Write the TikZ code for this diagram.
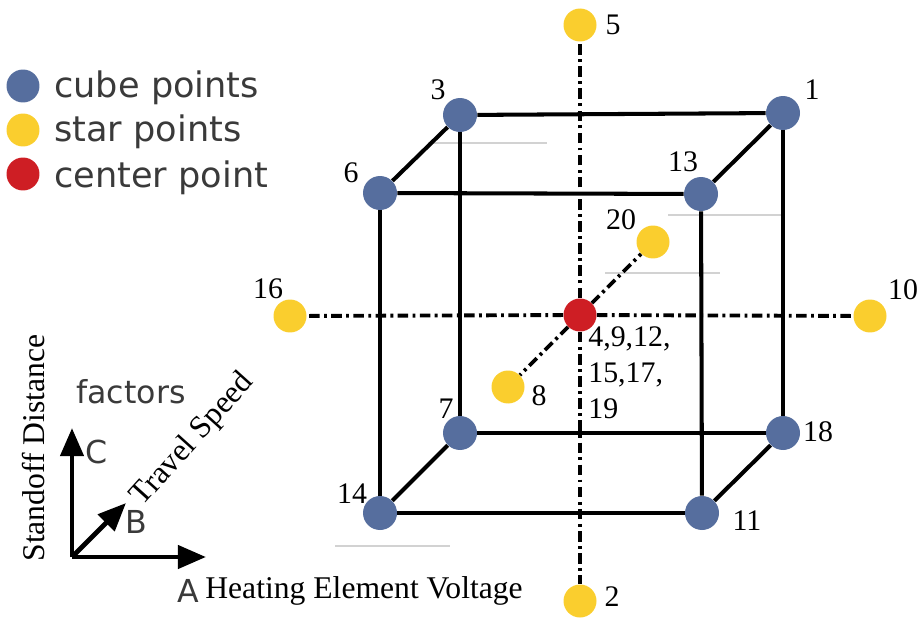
\documentclass[tikz,border=0pt]{standalone}
\usepackage{fontspec}
\setmainfont{Liberation Serif}
\setsansfont{DejaVu Sans}
\usetikzlibrary{arrows.meta}

\definecolor{cubeblue}{RGB}{86,110,158}
\definecolor{staryellow}{RGB}{250,206,46}
\definecolor{centerred}{RGB}{206,30,36}
\definecolor{legendgray}{RGB}{58,58,58}

\tikzset{
  cubept/.style={circle, fill=cubeblue, minimum size=0.68cm, inner sep=0pt},
  starpt/.style={circle, fill=staryellow, minimum size=0.66cm, inner sep=0pt},
  centerpt/.style={circle, fill=centerred, minimum size=0.66cm, inner sep=0pt},
  edge/.style={line width=2.3pt, black},
  axisline/.style={line width=2.2pt, black, dash pattern=on 6pt off 2.5pt on 1.6pt off 2.5pt},
  numlabel/.style={font=\fontsize{17}{20}\selectfont, inner sep=0pt},
  legendtext/.style={font=\sffamily\fontsize{20}{24}\selectfont, text=legendgray, anchor=west, inner sep=0pt},
  factorarrow/.style={line width=2.8pt, -{Triangle[length=16pt, width=13pt]}},
  factorletter/.style={font=\sffamily\fontsize{18}{22}\selectfont, text=legendgray, inner sep=0pt},
  factorname/.style={font=\fontsize{18}{22}\selectfont, inner sep=0pt}
}

\begin{document}
\begin{tikzpicture}[x=0.02cm, y=-0.02cm]
    \useasboundingbox (0,0) rectangle (922,618);

    % 1. faint scan lines
    \draw[gray!35, line width=0.6pt] (428,143) -- (547,143);
    \draw[gray!35, line width=0.6pt] (668,215) -- (782,215);
    \draw[gray!35, line width=0.6pt] (605,273) -- (720,273);
    \draw[gray!35, line width=0.6pt] (335,546) -- (450,546);

    % 2. cube points
    \foreach \n/\x/\y in {1/783/113, 3/460/115, 6/380/193, 13/701/194,
                          7/460/433, 18/783/433, 14/380/513, 11/702/513} {
        \node[cubept] (p\n) at (\x,\y) {};
    }

    % 3. star points and center point
    \node[centerpt] (c) at (580,315) {};
    \foreach \n/\x/\y in {5/580/25, 2/580/601, 16/290/316, 10/870/316,
                          20/653/242, 8/508/387} {
        \node[starpt] (s\n) at (\x,\y) {};
    }

    % 4. cube edges
    \foreach \a/\b in {3/1, 6/13, 3/6, 1/13, 3/7, 1/18, 6/14, 13/11,
                       7/18, 14/11, 7/14, 18/11} {
        \draw[edge] (p\a) -- (p\b);
    }

    % 5. axes through the center point
    \foreach \s in {5,2,16,10,20,8} {
        \draw[axisline] (c) -- (s\s);
    }

    % 6. point numbers
    \foreach \n/\x/\y in {1/812/90, 3/438/90, 6/351/173, 13/683/162,
                          7/446/409, 18/818/432, 14/352/494, 11/747/521,
                          5/613/25, 2/612/597, 16/268/289, 10/903/290,
                          20/621/220, 8/539/396} {
        \node[numlabel] (l\n) at (\x,\y) {\n};
    }
    \node[numlabel, anchor=north west, align=left,
          font=\fontsize{17}{20.5}\selectfont] (lc) at (588,326)
        {4,9,12,\\15,17,\\19};

    % 7. legend
    \node[cubept, minimum size=0.66cm] (kcube) at (23,86) {};
    \node[starpt] (kstar) at (23,130) {};
    \node[centerpt] (kcenter) at (23,174) {};
    \node[legendtext] (tcube) at (54,88) {cube points};
    \node[legendtext] (tstar) at (54,132) {star points};
    \node[legendtext] (tcenter) at (54,178) {center point};

    % 8. factor axes
    \coordinate (O) at (72,557);
    \coordinate (C) at (72,428);
    \coordinate (A) at (206,557);
    \coordinate (B) at (126,503);
    \draw[factorarrow] (O) -- (C);
    \draw[factorarrow] (O) -- (A);
    \draw[factorarrow] (O) -- (B);
    \node[factorletter] (fl) at (131,392) {factors};
    \node[factorletter] (lC) at (97,452) {C};
    \node[factorletter] (lB) at (136,522) {B};
    \node[factorletter] (lA) at (188,591) {A};

    \node[factorname, anchor=west] (nA) at (205,591) {Heating Element Voltage};
    \node[factorname, rotate=90] (nC) at (34,448) {Standoff Distance};
    \node[factorname, rotate=48] (nB) at (193,440) {Travel Speed};

\end{tikzpicture}
\end{document}
